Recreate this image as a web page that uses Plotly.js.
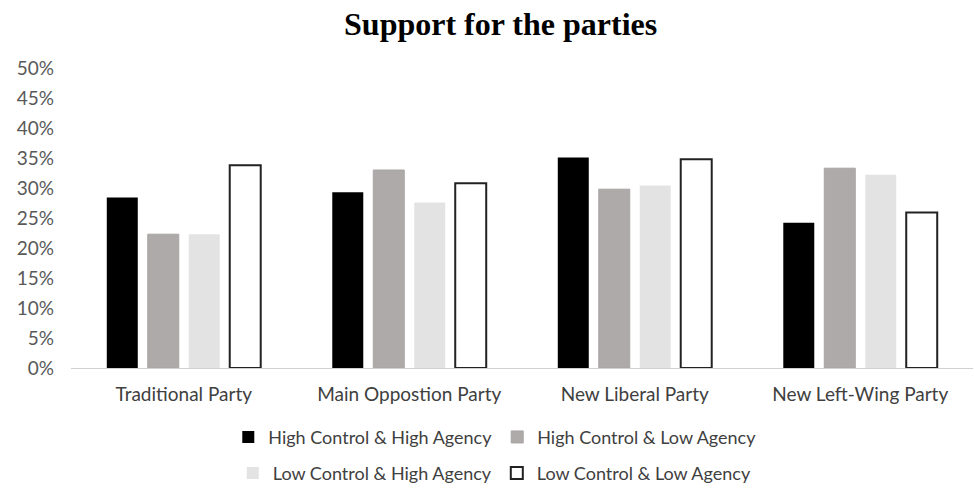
<!DOCTYPE html>
<html>
<head>
<meta charset="utf-8">
<script src="https://cdn.plot.ly/plotly-3.0.1.min.js"></script>
<style>html,body{margin:0;padding:0;background:#fff;}#chart{width:974px;height:488px;}</style>
</head>
<body>
<div id="chart"></div>
<script>
const categories = ["Traditional Party", "Main Oppostion Party", "New Liberal Party", "New Left-Wing Party"];
const seriesNames = ["High Control & High Agency", "High Control & Low Agency", "Low Control & High Agency", "Low Control & Low Agency"];
const hcHighAgency = [0.284, 0.293, 0.351, 0.242];
const hcLowAgency  = [0.223, 0.330, 0.298, 0.333];
const lcHighAgency = [0.223, 0.276, 0.304, 0.322];
const lcLowAgency  = [0.338, 0.308, 0.348, 0.259];
const yTickVals = [0, 0.05, 0.10, 0.15, 0.20, 0.25, 0.30, 0.35, 0.40, 0.45, 0.50];

const fills = ["#000000", "#aeaaa9", "#e3e3e3", "#ffffff"];
const lines = ["#000000", "#a8a4a3", "#e0e0e0", "#222222"];
const lineW = [0, 1, 0, 2];
const legendIds = ["legend", "legend", "legend2", "legend2"];
const values = [hcHighAgency, hcLowAgency, lcHighAgency, lcLowAgency];

const data = values.map((v, i) => ({
  type: "bar",
  name: seriesNames[i],
  x: categories,
  y: v,
  legend: legendIds[i],
  marker: { color: fills[i], line: { color: lines[i], width: lineW[i] } },
  hoverinfo: "skip"
}));

const legendFont = { family: "Lato, 'Open Sans', sans-serif", size: 18, color: "#404040" };
const layout = {
  width: 974, height: 488,
  margin: { l: 71, r: 1, t: 68, b: 120 },
  paper_bgcolor: "#ffffff", plot_bgcolor: "#ffffff",
  title: { text: "<b>Support for the parties</b>", x: 0.514, xanchor: "center", y: 0.952, yanchor: "middle",
           font: { family: "'Liberation Serif', 'Times New Roman', serif", size: 32, color: "#000" } },
  barmode: "group", bargap: 0.273, bargroupgap: 0.244,
  xaxis: { showgrid: false, showline: true, linecolor: "#d0d0d0", linewidth: 1, zeroline: false,
           ticks: "", ticklabelstandoff: 9, tickfont: { family: "Lato, 'Open Sans', sans-serif", size: 19, color: "#404040" } },
  yaxis: { range: [0, 0.5], tickvals: yTickVals, tickformat: ".0%", showgrid: false, zeroline: false, showline: false,
           ticks: "", ticklabelstandoff: 16, tickfont: { family: "Lato, 'Open Sans', sans-serif", size: 19, color: "#595959" } },
  showlegend: true,
  legend: { orientation: "h", xref: "container", yref: "container", x: 0.508, xanchor: "center", y: 0.104, yanchor: "middle",
            font: legendFont, itemwidth: 30, bgcolor: "rgba(0,0,0,0)" },
  legend2: { orientation: "h", xref: "container", yref: "container", x: 0.508, xanchor: "center", y: 0.03, yanchor: "middle",
             font: legendFont, itemwidth: 30, bgcolor: "rgba(0,0,0,0)" }
};

Plotly.newPlot("chart", data, layout, { displayModeBar: false, staticPlot: true });
</script>
</body>
</html>
